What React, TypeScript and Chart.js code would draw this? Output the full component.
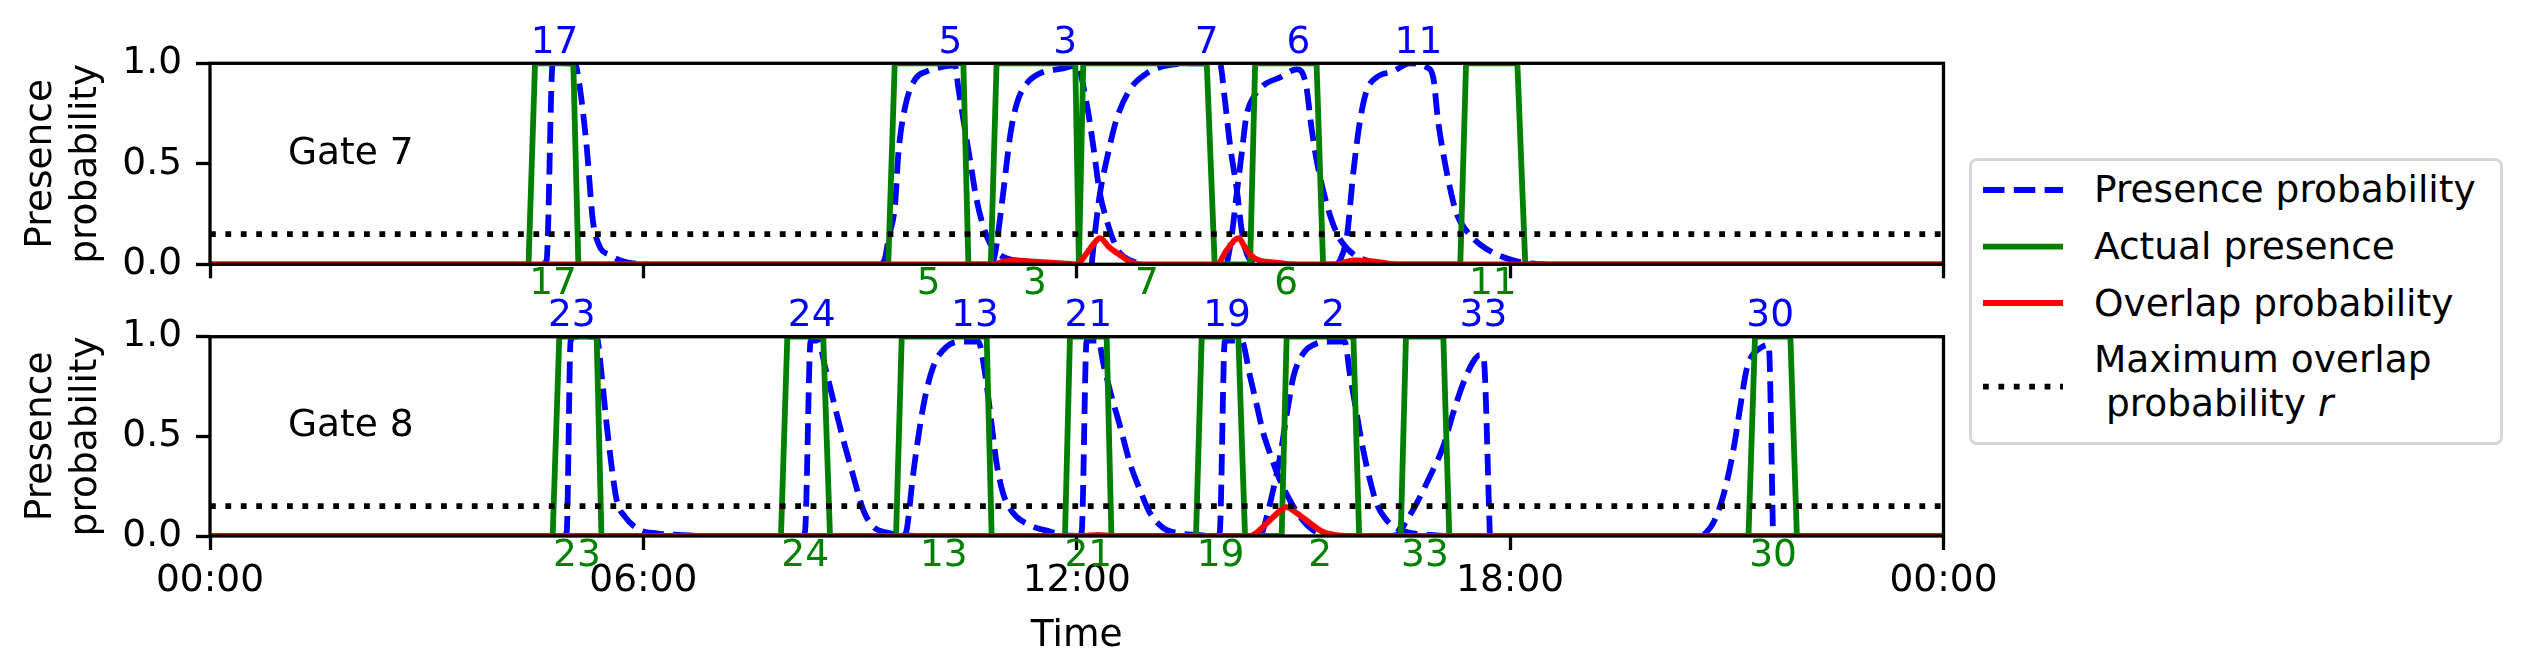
import React, { useEffect, useRef } from 'react';
import { Chart, registerables } from 'chart.js';

Chart.register(...registerables);

// ---------------- data ----------------
const X_TICK_VALUES = [0, 6, 12, 18, 24];
const X_TICK_LABELS = ['00:00', '06:00', '12:00', '18:00', '00:00'];
const Y_TICK_STEP = 0.5;
const R_MAX = 0.15;
const GATE_NAMES = ['Gate 7', 'Gate 8'];
const GATE_LABEL_T = 1.08;
const GATE_LABEL_P = 0.5;

// ---- Gate 7 ----
const G7_FLIGHTS = ['17', '5', '3', '7', '6', '11'];
// actual presence per flight: [ramp start, on, off, ramp end] in hours
const G7_ACTUAL = [
  [4.41, 4.5, 5.03, 5.1],
  [9.39, 9.48, 10.43, 10.5],
  [10.81, 10.89, 11.98, 12.03],
  [12.03, 12.09, 13.8, 13.91],
  [14.4, 14.47, 15.32, 15.41],
  [17.31, 17.39, 18.1, 18.21],
];
const G7_ACTUAL_LABEL_T = [4.75, 9.95, 11.42, 12.97, 14.9, 17.76];
const G7_PRED_LABEL_T = [4.77, 10.25, 11.84, 13.8, 15.07, 16.73];

const P7_17 = [[4.6, 0], [4.66, 0.02], [4.745, 1.0], [5.05, 1.0], [5.12, 0.88], [5.215, 0.585], [5.3, 0.22], [5.38, 0.1], [5.54, 0.045], [5.77, 0.01], [6.05, 0]];
const P7_5 = [[9.3, 0], [9.345, 0.03], [9.4, 0.14], [9.483, 0.29], [9.53, 0.55], [9.622, 0.78], [9.761, 0.92], [9.922, 0.96], [10.107, 0.98], [10.314, 0.99], [10.36, 0.88], [10.43, 0.72], [10.522, 0.52], [10.614, 0.32], [10.753, 0.14], [10.891, 0.06], [11.03, 0.03], [11.35, 0.01], [11.6, 0]];
const P7_3 = [[10.83, 0], [10.868, 0.05], [10.98, 0.35], [11.076, 0.635], [11.17, 0.8], [11.31, 0.9], [11.49, 0.95], [11.81, 0.975], [12.0, 0.99], [12.137, 0.8], [12.23, 0.585], [12.32, 0.353], [12.414, 0.22], [12.506, 0.12], [12.6, 0.055], [12.74, 0.02], [12.95, 0]];
const P7_7 = [[12.207, 0], [12.25, 0.15], [12.32, 0.35], [12.414, 0.52], [12.55, 0.72], [12.737, 0.87], [12.968, 0.95], [13.2, 0.985], [13.57, 1.0], [13.98, 1.0], [14.05, 0.82], [14.12, 0.6], [14.22, 0.36], [14.28, 0.18], [14.33, 0.08], [14.4, 0.02], [14.5, 0]];
const P7_6 = [[14.08, 0], [14.145, 0.14], [14.215, 0.353], [14.283, 0.55], [14.35, 0.74], [14.444, 0.83], [14.583, 0.89], [14.814, 0.93], [15.045, 0.97], [15.11, 0.96], [15.18, 0.88], [15.25, 0.68], [15.32, 0.52], [15.41, 0.37], [15.51, 0.24], [15.62, 0.14], [15.74, 0.08], [15.875, 0.04], [16.06, 0.015], [16.29, 0]];
const P7_11 = [[15.6, 0], [15.645, 0.02], [15.74, 0.14], [15.83, 0.46], [15.92, 0.71], [16.01, 0.86], [16.15, 0.93], [16.38, 0.96], [16.61, 1.0], [16.845, 0.98], [16.94, 0.92], [17.0, 0.72], [17.075, 0.55], [17.167, 0.38], [17.26, 0.25], [17.39, 0.17], [17.58, 0.1], [17.81, 0.05], [18.04, 0.02], [18.27, 0.005], [18.5, 0]];
const G7_PRED = [P7_17, P7_5, P7_3, P7_7, P7_6, P7_11];
const G7_OVERLAP = [[0, 0], [10.845, 0], [11.0, 0.015], [11.17, 0.02], [11.35, 0.015], [11.81, 0.005], [12.0, 0], [12.137, 0.055], [12.23, 0.1], [12.32, 0.13], [12.45, 0.085], [12.645, 0.035], [12.737, 0.012], [12.92, 0], [13.94, 0], [14.075, 0.07], [14.24, 0.13], [14.35, 0.07], [14.49, 0.025], [14.72, 0.01], [15.05, 0], [15.6, 0], [15.83, 0.02], [16.1, 0.015], [16.43, 0], [24, 0]];

// ---- Gate 8 ----
const G8_FLIGHTS = ['23', '24', '13', '21', '19', '2', '33', '30'];
const G8_ACTUAL = [
  [4.744, 4.836, 5.353, 5.42],
  [7.905, 7.993, 8.49, 8.584],
  [9.498, 9.577, 10.753, 10.822],
  [11.837, 11.906, 12.414, 12.48],
  [13.651, 13.73, 14.237, 14.33],
  [14.837, 14.906, 15.83, 15.91],
  [16.485, 16.558, 17.075, 17.158],
  [21.3, 21.39, 21.88, 21.97],
];
const G8_ACTUAL_LABEL_T = [5.08, 8.24, 10.16, 12.16, 13.99, 15.37, 16.82, 21.64];
const G8_PRED_LABEL_T = [5.01, 8.33, 10.59, 12.16, 14.08, 15.55, 17.63, 21.6];

const P8_23 = [[4.9, 0], [4.938, 0.02], [4.993, 0.98], [5.05, 1.0], [5.353, 1.0], [5.42, 0.816], [5.49, 0.565], [5.56, 0.35], [5.63, 0.18], [5.745, 0.097], [5.953, 0.03], [6.184, 0.013], [6.507, 0.005], [6.8, 0]];
const P8_24 = [[8.2, 0], [8.237, 0.02], [8.316, 0.98], [8.42, 0.98], [8.515, 0.85], [8.63, 0.68], [8.77, 0.48], [8.907, 0.3], [9.045, 0.13], [9.18, 0.047], [9.37, 0.017], [9.55, 0.005], [9.8, 0]];
const P8_13 = [[9.6, 0], [9.645, 0.03], [9.737, 0.315], [9.875, 0.65], [10.014, 0.85], [10.2, 0.95], [10.43, 0.975], [10.637, 0.975], [10.73, 0.816], [10.82, 0.565], [10.89, 0.365], [10.98, 0.214], [11.12, 0.115], [11.35, 0.055], [11.63, 0.022], [11.81, 0.005], [12.0, 0]];
const P8_21 = [[12.03, 0], [12.068, 0.02], [12.137, 0.98], [12.3, 0.98], [12.368, 0.865], [12.46, 0.73], [12.6, 0.55], [12.737, 0.365], [12.876, 0.23], [13.014, 0.115], [13.2, 0.04], [13.43, 0.013], [13.66, 0.005], [13.9, 0]];
const P8_19 = [[13.95, 0], [13.98, 0.02], [14.05, 0.98], [14.28, 0.98], [14.4, 0.8], [14.49, 0.66], [14.58, 0.52], [14.68, 0.41], [14.79, 0.3], [14.95, 0.18], [15.09, 0.097], [15.27, 0.03], [15.5, 0.005], [15.7, 0]];
const P8_2 = [[14.55, 0], [14.58, 0.03], [14.7, 0.2], [14.81, 0.39], [14.93, 0.66], [15.0, 0.8], [15.137, 0.917], [15.27, 0.958], [15.505, 0.975], [15.71, 0.975], [15.78, 0.816], [15.875, 0.615], [15.967, 0.43], [16.06, 0.28], [16.15, 0.164], [16.29, 0.08], [16.43, 0.038], [16.66, 0.013], [16.89, 0.005], [17.1, 0]];
const P8_33 = [[16.35, 0], [16.475, 0.013], [16.52, 0.047], [16.706, 0.164], [16.89, 0.3], [17.075, 0.45], [17.21, 0.615], [17.35, 0.766], [17.49, 0.875], [17.58, 0.908], [17.63, 0.9], [17.72, 0]];
const P8_30 = [[20.67, 0], [20.81, 0.064], [20.95, 0.2], [21.09, 0.43], [21.2, 0.68], [21.27, 0.83], [21.34, 0.9], [21.45, 0.94], [21.58, 0.96], [21.64, 0]];
const G8_PRED = [P8_23, P8_24, P8_13, P8_21, P8_19, P8_2, P8_33, P8_30];
const G8_OVERLAP = [[0, 0], [12.1, 0], [12.3, 0.005], [12.5, 0], [14.4, 0], [14.62, 0.06], [14.81, 0.125], [14.9, 0.145], [15.045, 0.115], [15.23, 0.065], [15.41, 0.02], [15.6, 0.005], [15.9, 0], [24, 0]];

// ---------------- style / layout ----------------
const W = 2530;
const H = 671;
const FONT = '"DejaVu Sans", sans-serif';
const FS = 37.5;
const LW = 5.8;
const DASH = [21.5, 9.3];
const DOT = [5.8, 9.6];
const TICK_LEN = 14;
const SPINE = 3.3;
const LEFT = 210;
const RIGHT = 1943.5;
const TOPS = [63.3, 336.7];
const BOTS = [264.3, 536];
const BLUE = '#0000ff';
const GREEN = '#008000';
const RED = '#ff0000';

const toXY = (pts: number[][]) => pts.map(([x, y]) => ({ x, y }));

const framePlugin = {
  id: 'frame',
  afterDatasetsDraw(chart: any) {
    const { ctx, chartArea: a } = chart;
    ctx.save();
    ctx.strokeStyle = '#000';
    ctx.lineWidth = SPINE;
    ctx.strokeRect(a.left, a.top, a.right - a.left, a.bottom - a.top);
    ctx.restore();
  },
};

const labelPlugin = {
  id: 'flightLabels',
  afterDraw(chart: any, _args: any, opts: any) {
    const { ctx, chartArea, scales } = chart;
    const xs = scales.x;
    const ys = scales.y;
    ctx.save();
    ctx.font = `${FS}px ${FONT}`;
    ctx.textAlign = 'center';
    ctx.textBaseline = 'alphabetic';
    ctx.fillStyle = BLUE;
    opts.blue.forEach((l: any) => ctx.fillText(l.text, xs.getPixelForValue(l.t), chartArea.top - 10.5));
    ctx.fillStyle = GREEN;
    opts.green.forEach((l: any) => ctx.fillText(l.text, xs.getPixelForValue(l.t), chartArea.bottom + 30));
    ctx.fillStyle = '#000';
    ctx.textAlign = 'left';
    ctx.fillText(opts.gate, xs.getPixelForValue(GATE_LABEL_T), ys.getPixelForValue(GATE_LABEL_P));
    ctx.restore();
  },
};

function makeConfig(g: number): any {
  const isTop = g === 0;
  const flights = isTop ? G7_FLIGHTS : G8_FLIGHTS;
  const actual = isTop ? G7_ACTUAL : G8_ACTUAL;
  const pred = isTop ? G7_PRED : G8_PRED;
  const overlap = isTop ? G7_OVERLAP : G8_OVERLAP;
  const actualLabelT = isTop ? G7_ACTUAL_LABEL_T : G8_ACTUAL_LABEL_T;
  const predLabelT = isTop ? G7_PRED_LABEL_T : G8_PRED_LABEL_T;

  const greenPts: { x: number; y: number }[] = [{ x: 0, y: 0 }];
  actual.forEach(([a, b, c, d]) => {
    greenPts.push({ x: a, y: 0 }, { x: b, y: 1 }, { x: c, y: 1 }, { x: d, y: 0 });
  });
  greenPts.push({ x: 24, y: 0 });

  const common = { pointRadius: 0, pointHoverRadius: 0, fill: false, borderWidth: LW, borderJoinStyle: 'round' };
  const datasets: any[] = [
    { ...common, label: 'Maximum overlap probability r', data: [{ x: 0, y: R_MAX }, { x: 24, y: R_MAX }], borderColor: '#000', borderDash: DOT, order: 0 },
    { ...common, label: 'Overlap probability', data: toXY(overlap), borderColor: RED, order: 1, cubicInterpolationMode: 'monotone' },
    { ...common, label: 'Actual presence', data: greenPts, borderColor: GREEN, order: 2 },
    ...pred.map((curve) => ({ ...common, label: 'Presence probability', data: toXY(curve), borderColor: BLUE, borderDash: DASH, order: 3, cubicInterpolationMode: 'monotone' })),
  ];

  const font = { family: FONT, size: FS };
  const grid = { display: true, drawOnChartArea: false, drawTicks: true, tickLength: TICK_LEN, tickWidth: SPINE, tickColor: '#000' };
  const xHeight = isTop ? 20 : H - BOTS[1];

  return {
    type: 'line',
    data: { datasets },
    plugins: [framePlugin, labelPlugin],
    options: {
      responsive: false,
      animation: false,
      devicePixelRatio: 1,
      events: [],
      layout: {
        padding: { left: 0, top: TOPS[g], right: W - RIGHT, bottom: H - BOTS[g] - xHeight },
      },
      plugins: {
        legend: { display: false },
        tooltip: { enabled: false },
        title: { display: false },
        flightLabels: {
          gate: GATE_NAMES[g],
          blue: flights.map((f, i) => ({ text: f, t: predLabelT[i] })),
          green: flights.map((f, i) => ({ text: f, t: actualLabelT[i] })),
        },
      },
      scales: {
        x: {
          type: 'linear',
          min: X_TICK_VALUES[0],
          max: X_TICK_VALUES[X_TICK_VALUES.length - 1],
          ticks: {
            display: !isTop,
            stepSize: 6,
            autoSkip: false,
            maxRotation: 0,
            padding: 9,
            color: '#000',
            font,
            callback: (v: any) => {
              const i = X_TICK_VALUES.indexOf(Number(v));
              return i >= 0 ? X_TICK_LABELS[i] : '';
            },
          },
          grid,
          border: { display: false },
          title: isTop
            ? { display: false }
            : { display: true, text: 'Time', color: '#000', font, padding: { top: 0, bottom: 12 } },
          afterFit: (s: any) => {
            s.height = xHeight;
            s.paddingLeft = 0;
            s.paddingRight = 0;
          },
        },
        y: {
          type: 'linear',
          min: 0,
          max: 1,
          ticks: {
            stepSize: Y_TICK_STEP,
            padding: 14,
            color: '#000',
            font,
            callback: (v: any) => Number(v).toFixed(1),
          },
          grid,
          border: { display: false },
          title: { display: true, text: ['Presence', 'probability'], color: '#000', font, padding: { top: 18.5, bottom: 0 } },
          afterFit: (s: any) => {
            s.width = LEFT;
            s.paddingTop = 0;
            s.paddingBottom = 0;
          },
        },
      },
    },
  };
}

function LegendBox() {
  const textStyle: React.CSSProperties = {
    position: 'absolute',
    left: 2094,
    fontFamily: FONT,
    fontSize: FS,
    lineHeight: '45px',
    color: '#000',
    whiteSpace: 'pre',
  };
  const rows = [
    { top: 167.2, text: 'Presence probability' },
    { top: 224.2, text: 'Actual presence' },
    { top: 280.7, text: 'Overlap probability' },
    { top: 337.2, text: 'Maximum overlap' },
  ];
  return (
    <>
      <div
        style={{
          position: 'absolute',
          left: 1969,
          top: 158,
          width: 534,
          height: 287,
          boxSizing: 'border-box',
          border: '3px solid #d6d6d6',
          borderRadius: 8,
          background: '#fff',
        }}
      />
      <svg width={W} height={H} style={{ position: 'absolute', left: 0, top: 0 }}>
        <line x1={1983} x2={2063} y1={190} y2={190} stroke={BLUE} strokeWidth={LW} strokeDasharray={DASH.join(' ')} />
        <line x1={1983} x2={2063} y1={246.7} y2={246.7} stroke={GREEN} strokeWidth={LW} />
        <line x1={1983} x2={2063} y1={303} y2={303} stroke={RED} strokeWidth={LW} />
        <line x1={1983} x2={2063} y1={386.7} y2={386.7} stroke="#000" strokeWidth={LW} strokeDasharray={DOT.join(' ')} />
      </svg>
      {rows.map((r) => (
        <div key={r.text} style={{ ...textStyle, top: r.top }}>
          {r.text}
        </div>
      ))}
      <div style={{ ...textStyle, top: 381.2 }}>
        {' probability '}
        <i>r</i>
      </div>
    </>
  );
}

export default function App() {
  const ref1 = useRef<HTMLCanvasElement>(null);
  const ref2 = useRef<HTMLCanvasElement>(null);

  useEffect(() => {
    const c1 = new Chart(ref1.current as HTMLCanvasElement, makeConfig(0));
    const c2 = new Chart(ref2.current as HTMLCanvasElement, makeConfig(1));
    return () => {
      c1.destroy();
      c2.destroy();
    };
  }, []);

  return (
    <div style={{ position: 'absolute', left: 0, top: 0, width: W, height: H, background: '#fff', overflow: 'hidden' }}>
      <canvas ref={ref1} width={W} height={H} style={{ position: 'absolute', left: 0, top: 0 }} />
      <canvas ref={ref2} width={W} height={H} style={{ position: 'absolute', left: 0, top: 0 }} />
      <LegendBox />
    </div>
  );
}
